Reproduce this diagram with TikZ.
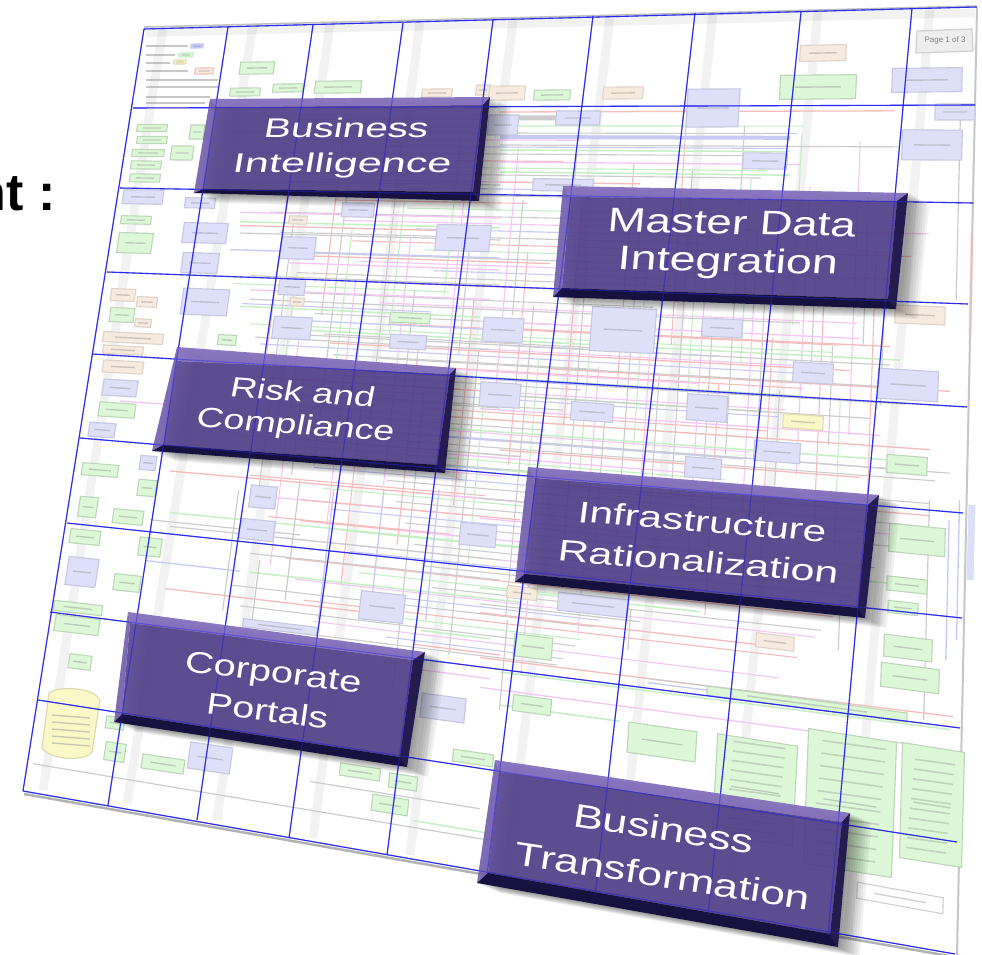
\documentclass[tikz,border=0pt]{standalone}
\usepackage{fontspec}
\setmainfont{Liberation Sans}
\definecolor{gridblue}{HTML}{2A2AF0}
\definecolor{gfill}{HTML}{DCF8D6}\definecolor{gline}{HTML}{BCD6B8}
\definecolor{lfill}{HTML}{DEE0FA}\definecolor{lline}{HTML}{C6C7E0}
\definecolor{pfill}{HTML}{F7EADE}\definecolor{pline}{HTML}{DFD3C5}
\definecolor{yfill}{HTML}{FBF8C8}\definecolor{yline}{HTML}{DEDAB0}
\definecolor{kfill}{HTML}{EEEEEE}\definecolor{kline}{HTML}{CFCFCF}
\definecolor{rl}{HTML}{F6BCBC}\definecolor{gl}{HTML}{C4F0C4}
\definecolor{ml}{HTML}{F5C6F5}\definecolor{bl}{HTML}{C6CAF4}
\definecolor{kl}{HTML}{CCCCCC}
\definecolor{bface}{HTML}{54418F}\definecolor{btop}{HTML}{8570BC}
\definecolor{bleft}{HTML}{7460AE}\definecolor{bright}{HTML}{241B50}
\definecolor{bbot}{HTML}{17113F}
% ---- a faint skewed box of the background chart: cx,cy,w,h,fill,line
\newcommand\bx[6]{%
 \pgfmathsetmacro\sh{-0.025+0.2*(#2-18)/855}%
 \pgfmathsetmacro\sv{-0.159+0.138*(#1-72)/893}%
 \pgfmathsetmacro\ax{#3/2}\pgfmathsetmacro\ay{#4/2}%
 \fill[#5,draw=#6,line width=1.1pt]
  ({#1-\ax+\sv*(-\ay)},{#2-\ay+\sh*(-\ax)}) --
  ({#1+\ax+\sv*(-\ay)},{#2-\ay+\sh*(\ax)}) --
  ({#1+\ax+\sv*(\ay)},{#2+\ay+\sh*(\ax)}) --
  ({#1-\ax+\sv*(\ay)},{#2+\ay+\sh*(-\ax)}) -- cycle;
 \draw[black!45,opacity=.4,line width=1.4pt]
  ({#1-.3*#3},{#2-.3*#3*\sh}) -- ({#1+.3*#3},{#2+.3*#3*\sh});}
% ---- a chart line running across: x1,x2,y at x=500,style
\newcommand\hl[4]{%
 \pgfmathsetmacro\sh{-0.025+0.2*(#3-18)/855}%
 \draw[#4] (#1,{#3+\sh*(#1-500)}) -- (#2,{#3+\sh*(#2-500)});}
% ---- a chart line running down: x at y=480,y1,y2,style
\newcommand\vl[4]{%
 \pgfmathsetmacro\sv{-0.159+0.138*(#1-72)/893}%
 \draw[#4] ({#1+\sv*(#2-480)},#2) -- ({#1+\sv*(#3-480)},#3);}
% ---- bevelled panel: outer TL TR BR BL, inner TL TR BR BL
\newcommand\tdbox[8]{%
 \foreach \i in {1,...,9}{\fill[black,opacity=.05,shift={(\i*2.4,\i*1.1)}] #1--#2--#3--#4--cycle;}
 \fill[bface,opacity=.88] #5--#6--#7--#8--cycle;
 \fill[btop,opacity=.95] #1--#2--#6--#5--cycle;
 \fill[bleft,opacity=.92] #1--#5--#8--#4--cycle;
 \fill[bright] #2--#3--#7--#6--cycle;
 \fill[bbot] #4--#8--#7--#3--cycle;}
% ---- panel text: name,x,y,rotate,xslant,xscale,size,text
\newcommand\lab[8]{\node[text=white,anchor=base,inner sep=0pt,rotate=#4,xslant=#5,xscale=#6,font=\fontsize{#7}{#7}\selectfont] (#1) at (#2,#3) {#8};}
\newcommand\gridh{144/29/977/7,133/108/975/105,120/188/973/203,107/272/968/304,92/354/967/407,80/438/963/513,67/523/962/618,50/612/960/728,38/700/957/842,23/791/955/954}
\newcommand\gridv{144/29/23/791,228/27/108/805,313/25/197/820,403/23/289/838,493/20/387/855,593/16/487/875,695/13/595/895,801/12/708/915,912/8/828/935}
\tikzset{
 gridline/.style={gridblue,line width=1.1pt},
 band/.style={black,opacity=.05,line width=9pt},
}
\begin{document}
\begin{tikzpicture}[x=1pt,y=-1pt]
\useasboundingbox (0,0) rectangle (982,955);
\fill[white] (0,0) rectangle (982,955);
% page edge shadows
\draw[black!30,line width=2.5pt] (24,794) -- (955,957);
\draw[black!25,line width=1.5pt] (144,27) -- (976,6);
\draw[black!22,line width=2pt] (977,8) -- (957,955);
% faint column and row bands
\foreach \a/\b/\c/\d in {163/28/43/790,253/26/127/803,330/24/217/820,420/22/313/838,513/20/410/855,610/16/507/875,713/13/618/895,818/12/728/915,930/8/848/935}{
 \draw[band] (\a,\b) -- (\c,\d);}
\hl{146}{975}{24}{band}
% dense wiring of the chart
\foreach \n in {1,...,78}{
 \pgfmathtruncatemacro\ya{112+\n*7}
 \pgfmathtruncatemacro\xa{225+mod(\n*73,210)}
 \pgfmathtruncatemacro\xb{min(935,\xa+170+mod(\n*131,420))}
 \pgfmathtruncatemacro\m{mod(\n,6)}
 \edef\cc{\ifcase\m kl\or rl\or gl\or kl\or ml\or bl\fi}
 \hl{\xa}{\xb}{\ya}{\cc,line width=1.1pt}}
\foreach \n in {1,...,62}{
 \pgfmathtruncatemacro\xa{240+\n*10.3}
 \pgfmathtruncatemacro\ya{115+mod(\n*53,310)}
 \pgfmathtruncatemacro\yb{min(690,\ya+90+mod(\n*97,240))}
 \pgfmathtruncatemacro\m{mod(\n,5)}
 \edef\cc{\ifcase\m kl\or rl\or kl\or gl\or ml\fi}
 \vl{\xa}{\ya}{\yb}{\cc,line width=1.1pt}}
% lines
\foreach \a/\b/\c in {500/895/112,500/640/182,240/480/232,290/550/262,500/890/328,330/850/352,550/950/366,250/500/392,450/930/420,500/860/450,170/520/500,300/520/518,480/760/615,165/360/628,480/953/660,413/500/655,300/480/540,560/930/480}{
 \hl{\a}{\b}{\c}{rl,line width=1.3pt}}
\foreach \a/\b/\c in {500/790/150,500/790/172,240/500/228,300/900/340,480/770/395,400/900/432,300/700/470,170/900/545,250/520/600,500/950/672,413/490/835,420/490/640,500/620/705,480/700/590,240/480/318}{
 \hl{\a}{\b}{\c}{gl,line width=1.5pt}}
\foreach \a/\b/\c in {500/800/162,240/500/218,500/860/322,290/500/270,120/170/428,300/700/372,480/880/410,400/700/458,450/920/500,400/520/540,480/908/690,413/490/680,250/490/300,480/640/520}{
 \hl{\a}{\b}{\c}{ml,line width=1.3pt}}
\foreach \a/\b/\c in {360/900/440,230/500/258,480/760/380,270/500/470,648/873/664,145/240/600,500/720/345,300/500/330}{
 \hl{\a}{\b}{\c}{bl,line width=1.3pt}}
\hl{500}{790}{137}{bl,line width=4pt}
\hl{500}{600}{118}{kl,line width=5pt}
\foreach \a/\b/\c in {500/900/145,240/500/185,240/500/240,250/500/285,300/890/345,380/890/365,500/870/395,250/800/310,300/500/408,500/950/440,170/500/560,250/500/580,480/640/606,647/842/660,33/490/842,310/480/812,600/905/380,255/490/350,480/720/500,150/300/555,350/520/455}{
 \hl{\a}{\b}{\c}{kl,line width=1.2pt}}
\foreach \a/\b/\c in {300/480/600,270/560/640,240/490/610,930/500/720,952/120/300,845/600/650,640/610/650,520/620/710}{
 \vl{\a}{\b}{\c}{kl,line width=1.2pt}}
\foreach \a/\b/\c in {335/490/620,385/490/620,440/490/620,960/500/640,950/520/660}{
 \vl{\a}{\b}{\c}{bl,line width=1.3pt}}
\draw[rl,line width=3pt,opacity=.5] (972,233) -- (970,333);
\draw[bl,line width=7pt,opacity=.6] (972,505) -- (970,580);
% legend lines
\foreach \y/\e in {46/188,55/175,63/170,71/188,80/218,87/218,97/210,103/205}{
 \draw[black!40,opacity=.55,line width=1.6pt] (146,\y) -- (\e,\y);}
\bx{197}{46}{12}{4}{bl}{bl}
\bx{186}{55}{14}{4}{gfill}{gl}
\bx{180}{62}{12}{4}{yfill}{yline}
\bx{204}{71}{18}{6}{pfill}{rl}
% green boxes
\foreach \a/\b/\c/\d in {257/68/34/12,245/92/30/8,288/88/30/8,338/87/46/12,152/128/30/7,152/140/30/7,148/153/32/7,146/165/30/8,145/178/30/8,197/132/14/14,182/153/22/14,136/220/30/8,135/243/34/20,122/315/24/14,117/410/36/14,100/470/36/12,410/318/40/10,227/340/18/10,88/507/18/20,128/517/30/14,85/537/30/14,150/547/22/18,127/583/26/16,78/608/48/10,77/625/44/16,80/662/22/14,115/723/18/12,115/752/20/18,163/764/42/14,360/772/40/12,403/782/28/14,390/805/36/16,473/758/40/12,147/488/18/16,818/87/76/24,552/95/36/10,907/465/40/18,917/540/56/28,907/585/40/14,903/608/30/12,908/648/48/22,910/678/58/24,533/647/38/22,532/705/38/16,807/704/200/9,662/742/68/30,755/790/80/100,850/803/88/135,932/805/62/115}{
 \bx{\a}{\b}{\c}{\d}{gfill}{gline}}
% small writing in the three long green lists
\foreach \x/\w/\ya/\yb in {755/26/745/840,850/32/745/870,932/20/762/860}{
 \foreach \t in {0,.1,...,1}{
  \pgfmathsetmacro\yy{\ya+\t*(\yb-\ya)}
  \pgfmathsetmacro\xo{\x-.1*(\yy-790)}
  \pgfmathsetmacro\sl{.14*\w}
  \draw[black!40,opacity=.4,line width=1.6pt] ({\xo-\w},{\yy-\sl}) -- ({\xo+\w},{\yy+\sl});}}
% lavender boxes
\foreach \a/\b/\c/\d in {143/197/40/14,205/233/44/20,200/263/36/20,205/302/46/26,298/248/34/22,292/287/26/16,292/328/38/22,408/342/36/14,463/238/54/26,358/210/32/14,200/203/30/10,120/388/34/16,102/430/26/14,148/463/16/14,503/125/30/20,578/118/44/14,713/108/52/38,765/161/44/16,927/80/70/24,955/112/40/16,932/145/60/30,563/185/60/12,503/330/40/24,623/330/64/44,722/328/40/18,500/395/40/24,592/412/42/18,707/408/40/26,813/373/40/20,908/385/60/30,777/452/46/20,703/468/36/20,263/497/26/22,257/530/34/20,82/572/30/28,382/607/44/28,443/708/44/24,210/758/42/26,478/535/36/22,280/627/74/8,593/605/70/18}{
 \bx{\a}{\b}{\c}{\d}{lfill}{lline}}
% peach boxes
\foreach \a/\b/\c/\d in {123/295/24/12,147/302/20/10,298/220/18/8,297/302/14/8,143/323/16/8,133/338/60/10,123/350/40/8,123/367/40/12,437/93/30/8,483/90/14/10,623/93/40/12,507/93/36/14,823/53/46/16,920/315/50/18,775/642/38/14,522/593/30/12}{
 \bx{\a}{\b}{\c}{\d}{pfill}{pline}}
\bx{803}{422}{40}{14}{yfill}{yline}
\bx{900}{898}{86}{16}{white}{kline}
% page number box
\fill[kfill,draw=kline,line width=1.2pt] (917,31) -- (972,29) -- (973,51) -- (916,53) -- cycle;
\node[text=black!50,font=\fontsize{8}{8}\selectfont,inner sep=0pt] (pageno) at (945,40) {Page 1 of 3};
% cylinder
\fill[yfill,draw=yline,line width=1.2pt] (49,693) .. controls (60,685) and (95,688) .. (100,700) -- (92,752) .. controls (85,762) and (50,760) .. (42,748) -- cycle;
\foreach \y in {715,722,729,736,743}{\draw[black!40,opacity=.5,line width=1.4pt] (52,\y) -- (90,\y+3);}
% grid
\foreach \a/\b/\c/\d in \gridh{\draw[gridline] (\a,\b) -- (\c,\d);}
\foreach \a/\b/\c/\d in \gridv{\draw[gridline] (\a,\b) -- (\c,\d);}
% panels
\tdbox{(210,99)}{(490,97)}{(479,201)}{(194,193)}{(216,107)}{(483,105)}{(473,192)}{(203,189)}
\tdbox{(563,186)}{(908,193)}{(896,309)}{(553,297)}{(570,197)}{(897,201)}{(888,299)}{(562,288)}
\tdbox{(177,347)}{(456,368)}{(445,473)}{(152,451)}{(177,361)}{(450,374)}{(437,465)}{(163,445)}
\tdbox{(528,467)}{(879,495)}{(865,618)}{(515,582)}{(535,478)}{(868,505)}{(858,608)}{(525,574)}
\tdbox{(128,612)}{(425,652)}{(407,767)}{(114,722)}{(130,623)}{(413,660)}{(400,757)}{(122,714)}
\tdbox{(495,760)}{(850,813)}{(838,947)}{(477,883)}{(500,772)}{(842,822)}{(830,934)}{(488,873)}
% the grid shows through the panels
\begin{scope}[opacity=.4]
\foreach \a/\b/\c/\d in \gridh{\draw[gridline] (\a,\b) -- (\c,\d);}
\foreach \a/\b/\c/\d in \gridv{\draw[gridline] (\a,\b) -- (\c,\d);}
\end{scope}
\lab{bi1}{345}{138}{0}{.17}{1.5}{27}{Business}
\lab{bi2}{341}{172}{0}{.17}{1.6}{27}{Intelligence}
\lab{md1}{731}{234}{-1.2}{.07}{1.34}{34}{Master Data}
\lab{md2}{727}{272}{-1.2}{.07}{1.37}{34}{Integration}
\lab{rc1}{301}{402}{-4.3}{.12}{1.33}{28}{Risk and}
\lab{rc2}{294}{434}{-4.3}{.12}{1.34}{28}{Compliance}
\lab{ir1}{701}{532}{-4.6}{.05}{1.41}{30}{Infrastructure}
\lab{ir2}{697}{572}{-4.6}{.05}{1.43}{30}{Rationalization}
\lab{cp1}{272}{682}{-7}{.02}{1.33}{30}{Corporate}
\lab{cp2}{266}{721}{-7}{.02}{1.31}{30}{Portals}
\lab{bt1}{662}{840}{-8.8}{0}{1.36}{33}{Business}
\lab{bt2}{661}{887}{-8.8}{0}{1.35}{33}{Transformation}
% heading fragment, cut by the page edge
\node[anchor=base east,inner sep=0pt,font=\fontsize{52}{52}\selectfont\bfseries] (head) at (56,210) {nt :};
\end{tikzpicture}
\end{document}
